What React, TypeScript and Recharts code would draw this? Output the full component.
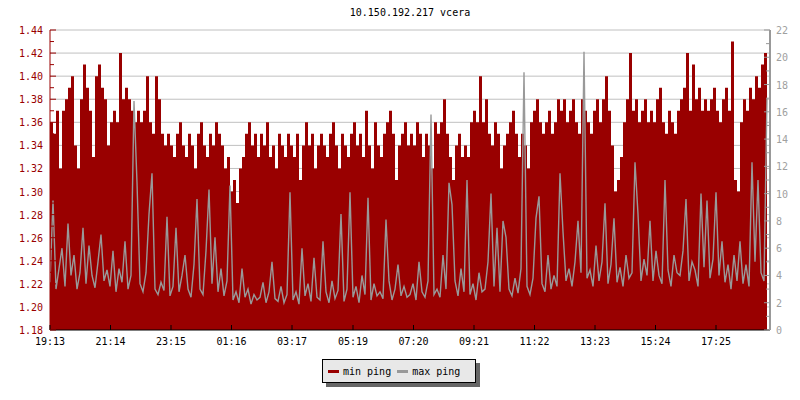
import { ComposedChart, Area, Line, XAxis, YAxis, CartesianGrid } from 'recharts';

const FONT = '"DejaVu Sans Mono", monospace';
const RED = '#990000';
const GRAY = '#999999';

const title = '10.150.192.217 vcera';

// minutes since 19:13, one sample every 6 min
const timeTicks = [0, 121, 242, 363, 484, 606, 727, 848, 969, 1090, 1211, 1332];
const timeLabels = ['19:13', '21:14', '23:15', '01:16', '03:17', '05:19', '07:20', '09:21', '11:22', '13:23', '15:24', '17:25'];

const leftTicks = [
  1.18, 1.19, 1.2, 1.21, 1.22, 1.23, 1.24, 1.25, 1.26, 1.27, 1.28, 1.29, 1.3, 1.31,
  1.32, 1.33, 1.34, 1.35, 1.36, 1.37, 1.38, 1.39, 1.4, 1.41, 1.42, 1.43, 1.44,
];
const gridValues = [1.2, 1.22, 1.24, 1.26, 1.28, 1.3, 1.32, 1.34, 1.36, 1.38, 1.4, 1.42, 1.44];
const rightTicks = [0, 1, 2, 3, 4, 5, 6, 7, 8, 9, 10, 11, 12, 13, 14, 15, 16, 17, 18, 19, 20, 21, 22];

const minPing = [
  1.36, 1.35, 1.37, 1.32, 1.37, 1.38, 1.39, 1.40, 1.34, 1.32,
  1.38, 1.41, 1.39, 1.37, 1.33, 1.40, 1.41, 1.39, 1.38, 1.34,
  1.36, 1.37, 1.36, 1.42, 1.38, 1.39, 1.38, 1.37, 1.36, 1.37,
  1.36, 1.37, 1.40, 1.36, 1.35, 1.40, 1.38, 1.35, 1.34, 1.35,
  1.34, 1.33, 1.35, 1.36, 1.34, 1.33, 1.35, 1.34, 1.32, 1.35,
  1.36, 1.34, 1.33, 1.35, 1.34, 1.36, 1.35, 1.34, 1.32, 1.33,
  1.30, 1.31, 1.29, 1.32, 1.33, 1.35, 1.36, 1.34, 1.35, 1.33,
  1.35, 1.34, 1.36, 1.33, 1.34, 1.32, 1.35, 1.34, 1.33, 1.35,
  1.34, 1.33, 1.35, 1.31, 1.34, 1.36, 1.34, 1.35, 1.32, 1.34,
  1.35, 1.34, 1.33, 1.35, 1.36, 1.34, 1.32, 1.35, 1.34, 1.33,
  1.35, 1.36, 1.34, 1.35, 1.33, 1.37, 1.34, 1.32, 1.36, 1.34,
  1.33, 1.35, 1.36, 1.37, 1.35, 1.31, 1.34, 1.35, 1.36, 1.34,
  1.35, 1.34, 1.36, 1.35, 1.33, 1.35, 1.34, 1.32, 1.36, 1.35,
  1.36, 1.38, 1.35, 1.33, 1.31, 1.34, 1.35, 1.33, 1.34, 1.33,
  1.36, 1.37, 1.36, 1.40, 1.36, 1.38, 1.35, 1.34, 1.36, 1.35,
  1.32, 1.34, 1.35, 1.36, 1.37, 1.35, 1.33, 1.35, 1.34, 1.32,
  1.36, 1.37, 1.38, 1.36, 1.35, 1.36, 1.37, 1.35, 1.36, 1.38,
  1.37, 1.38, 1.36, 1.37, 1.38, 1.36, 1.35, 1.38, 1.37, 1.36,
  1.35, 1.37, 1.38, 1.36, 1.38, 1.40, 1.37, 1.34, 1.30, 1.31,
  1.33, 1.36, 1.38, 1.42, 1.37, 1.38, 1.36, 1.37, 1.38, 1.36,
  1.37, 1.36, 1.38, 1.39, 1.36, 1.35, 1.37, 1.36, 1.35, 1.37,
  1.38, 1.39, 1.42, 1.37, 1.41, 1.38, 1.39, 1.37, 1.38, 1.37,
  1.38, 1.39, 1.37, 1.36, 1.38, 1.39, 1.37, 1.43, 1.31, 1.30,
  1.36, 1.38, 1.37, 1.39, 1.38, 1.40, 1.39, 1.41, 1.42, 1.39,
];

const maxPing = [
  3.5, 9.5, 3.0, 4.5, 6.0, 3.2, 7.8, 4.0, 5.5, 3.0,
  4.2, 7.5, 3.4, 6.2, 4.0, 3.1, 5.0, 7.0, 3.6, 4.4,
  3.2, 5.8, 2.8, 4.5, 3.5, 6.5, 3.0, 4.0, 16.8, 10.8,
  3.4, 2.8, 4.2, 8.5, 11.5, 3.0, 2.6, 3.5, 2.9, 8.3,
  2.5, 3.2, 7.5, 2.8, 4.0, 5.5, 3.0, 2.4, 4.8, 9.6,
  3.0, 2.6, 5.8, 10.3, 3.4, 6.8, 2.8, 4.5, 2.5, 3.6,
  10.6, 2.2, 2.8, 2.0, 4.5, 2.4, 3.0, 1.9, 2.6, 2.2,
  2.4, 3.5, 2.0, 2.8, 5.0, 2.3, 2.1, 3.2, 2.0, 2.6,
  10.1, 2.2, 2.8, 1.9, 6.0, 2.5, 3.4, 2.1, 5.3, 2.4,
  2.2, 6.5, 2.8, 2.0, 3.6, 2.3, 2.9, 8.5, 2.1, 3.0,
  10.1, 2.4, 3.2, 2.0, 4.0, 2.6, 9.7, 2.2, 3.4, 2.5,
  2.8, 2.3, 8.1, 3.6, 2.2, 3.0, 4.8, 2.5, 3.2, 2.4,
  2.6, 3.4, 2.2, 5.0, 2.8, 2.4, 3.6, 15.8, 2.6, 3.0,
  2.4, 5.5, 3.0, 10.8, 9.2, 3.6, 2.5, 4.5, 2.8, 11.0,
  2.6, 3.4, 2.2, 4.2, 2.8, 3.0, 5.0, 10.0, 3.2, 7.5,
  2.8, 8.0, 6.8, 3.0, 2.5, 3.8, 2.7, 4.5, 18.9, 3.2,
  2.6, 3.8, 8.2, 9.8, 3.4, 2.8, 5.5, 3.0, 4.0, 3.2,
  11.5, 7.2, 3.6, 4.5, 3.2, 5.0, 8.0, 4.2, 20.4, 3.8,
  4.4, 3.2, 6.2, 3.6, 5.0, 9.3, 3.4, 4.8, 8.2, 3.5,
  4.6, 3.2, 5.5, 3.8, 4.2, 12.3, 8.5, 3.6, 5.2, 4.0,
  8.0, 3.6, 5.8, 4.0, 3.4, 11.0, 4.4, 3.2, 5.5, 4.2,
  4.0, 5.8, 9.6, 3.6, 5.0, 4.4, 3.2, 10.0, 4.6, 9.5,
  3.8, 5.2, 10.1, 4.0, 6.5, 3.5, 4.8, 3.0, 5.5, 3.6,
  6.5, 3.4, 4.8, 3.2, 12.3, 5.0, 11.0, 4.2, 3.6, 17.0,
];

const data = minPing.map((v, i) => ({ t: i * 6, min: v, max: maxPing[i] }));

function LeftTick(props: any) {
  const { x, y, payload } = props;
  const v = payload.value;
  const major = Math.round(v * 100) % 2 === 0;
  return (
    <g>
      <line x1={x} x2={x + (major ? 6 : 4)} y1={y} y2={y} stroke={RED} />
      {major && (
        <text x={x - 7} y={y + 4} textAnchor="end" fill={RED} fontSize={10} fontFamily={FONT}>
          {v.toFixed(2)}
        </text>
      )}
    </g>
  );
}

function RightTick(props: any) {
  const { x, y, payload } = props;
  const v = payload.value;
  const major = v % 2 === 0;
  return (
    <g>
      <line x1={x - (major ? 6 : 4)} x2={x} y1={y} y2={y} stroke={GRAY} />
      {major && (
        <text x={x + 6} y={y + 4} textAnchor="start" fill="#a0a0a0" fontSize={10} fontFamily={FONT}>
          {v}
        </text>
      )}
    </g>
  );
}

function TimeTick(props: any) {
  const { x, y, payload } = props;
  const label = timeLabels[timeTicks.indexOf(payload.value)];
  return (
    <g>
      <line x1={x} x2={x} y1={y} y2={y - 5} stroke="#000" />
      <text x={x} y={y + 15} textAnchor="middle" fill="#000" fontSize={10} fontFamily={FONT}>
        {label}
      </text>
    </g>
  );
}

export default function App() {
  return (
    <div style={{ position: 'absolute', left: 0, top: 0, width: 800, height: 400, background: '#fff' }}>
      <div
        style={{
          position: 'absolute', left: 0, top: 7, width: 820, textAlign: 'center',
          fontFamily: FONT, fontSize: 10, lineHeight: '12px', color: '#000',
        }}
      >
        {title}
      </div>
      <ComposedChart width={800} height={400} data={data} margin={{ top: 30, right: 0, bottom: 0, left: 0 }}>
        <CartesianGrid yAxisId="left" vertical={false} horizontalValues={gridValues} stroke="#c0c0c0" />
        <XAxis
          dataKey="t"
          type="number"
          domain={[0, 1440]}
          ticks={timeTicks}
          interval={0}
          height={70}
          tickSize={0}
          tickMargin={0}
          tickLine={false}
          axisLine={{ stroke: '#000' }}
          tick={TimeTick}
          allowDataOverflow
        />
        <YAxis
          yAxisId="left"
          orientation="left"
          width={50}
          domain={[1.18, 1.44]}
          ticks={leftTicks}
          interval={0}
          tickSize={0}
          tickMargin={0}
          tickLine={false}
          axisLine={{ stroke: RED }}
          tick={LeftTick}
          allowDataOverflow
        />
        <YAxis
          yAxisId="right"
          orientation="right"
          width={30}
          domain={[0, 22]}
          ticks={rightTicks}
          interval={0}
          tickSize={0}
          tickMargin={0}
          tickLine={false}
          axisLine={{ stroke: GRAY, strokeWidth: 2 }}
          tick={RightTick}
          allowDataOverflow
        />
        <Area
          yAxisId="left"
          dataKey="min"
          type="stepAfter"
          baseValue="dataMin"
          fill={RED}
          fillOpacity={1}
          stroke="none"
          isAnimationActive={false}
        />
        <Line
          yAxisId="right"
          dataKey="max"
          type="linear"
          stroke={GRAY}
          strokeWidth={1.4}
          dot={false}
          activeDot={false}
          isAnimationActive={false}
        />
      </ComposedChart>
      <div
        style={{
          position: 'absolute', left: 322, top: 359, width: 152, height: 22,
          background: '#e8e8e8', border: '1px solid #000', boxShadow: '4px 4px 0 #666',
          fontFamily: FONT, fontSize: 10, color: '#000', display: 'flex', alignItems: 'center',
        }}
      >
        <span style={{ display: 'inline-block', width: 11, height: 3, background: RED, marginLeft: 5, marginRight: 4 }} />
        <span>min ping</span>
        <span style={{ display: 'inline-block', width: 11, height: 3, background: GRAY, marginLeft: 6, marginRight: 4 }} />
        <span>max ping</span>
      </div>
    </div>
  );
}
